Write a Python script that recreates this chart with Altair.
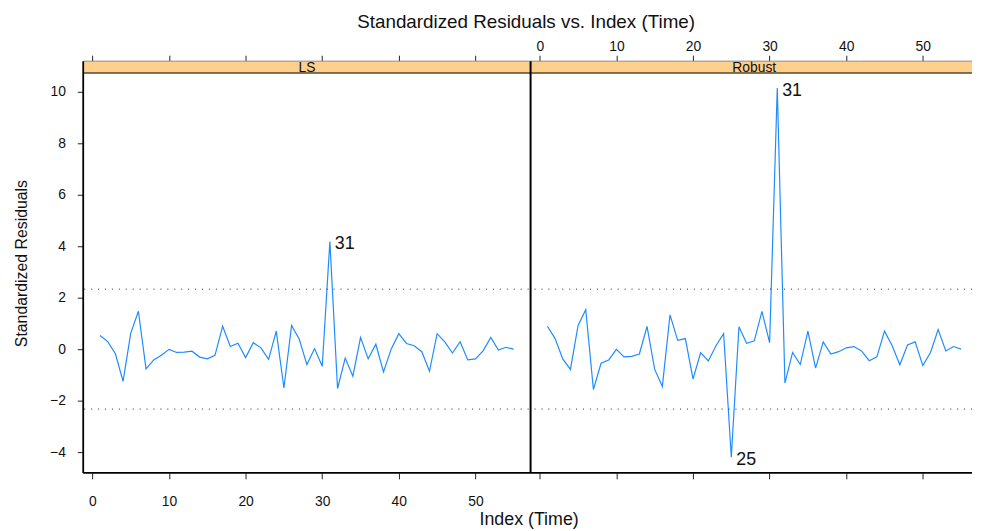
import altair as alt
import pandas as pd

# ---------------- data ----------------
index = list(range(1, 56))

ls_resid = [0.53, 0.29, -0.18, -1.25, 0.61, 1.47, -0.77, -0.42, -0.24, -0.01,
            -0.13, -0.12, -0.08, -0.31, -0.38, -0.24, 0.89, 0.10, 0.23, -0.33,
            0.25, 0.05, -0.40, 0.70, -1.51, 0.92, 0.38, -0.60, 0.02, -0.67,
            4.18, -1.53, -0.35, -1.05, 0.45, -0.38, 0.19, -0.89, 0.00, 0.60,
            0.22, 0.13, -0.10, -0.86, 0.60, 0.28, -0.15, 0.29, -0.42, -0.38,
            -0.07, 0.45, -0.04, 0.07, 0.00]

robust_resid = [0.89, 0.41, -0.38, -0.79, 0.92, 1.53, -1.57, -0.55, -0.42, -0.01,
                -0.30, -0.28, -0.19, 0.88, -0.79, -1.45, 1.33, 0.34, 0.41, -1.16,
                -0.14, -0.46, 0.13, 0.60, -4.20, 0.87, 0.23, 0.32, 1.47, 0.25,
                10.15, -1.32, -0.13, -0.60, 0.70, -0.74, 0.28, -0.19, -0.10, 0.05,
                0.10, -0.07, -0.45, -0.30, 0.70, 0.13, -0.61, 0.16, 0.28, -0.64,
                -0.13, 0.76, -0.07, 0.10, 0.00]

panel_names = ["LS", "Robust"]
ls_flag_idx = [31]
robust_flag_idx = [31, 25]
ref_levels = [2.33, -2.33]
x_ticks = [0, 10, 20, 30, 40, 50]
y_ticks = [-4, -2, 0, 2, 4, 6, 8, 10]

main_title = "Standardized Residuals vs. Index (Time)"
x_title = "Index (Time)"
y_title = "Standardized Residuals"

# ---------------- styling / layout ----------------
FONT = "Liberation Sans"
H = 416            # strip + plot
STRIP = 12
W_LS = 452
W_RB = 446
W = W_LS + W_RB
X_DOM_LS = [-1.2, 57.2]
X_DOM_RB = [-1.2, 56.42]
Y_DOM = [-4.81, 11.19]
LINE_COLOR = "#1e8cff"
STRIP_FILL = "#ffd08c"

ys = alt.Scale(domain=Y_DOM, nice=False, zero=False)
common = dict(tickSize=6, tickColor="#222", domain=False, grid=False,
              labelFont=FONT, labelFontSize=14, labelColor="#111",
              titleFont=FONT, titleFontWeight="normal", titleColor="#111")


def panel_layers(name, values, flags, x0, width, xdom, first):
    df = pd.DataFrame({"idx": index, "resid": values})
    lab = pd.DataFrame({"idx": flags,
                        "resid": [values[i - 1] for i in flags],
                        "lab": [str(i) for i in flags]})
    one = pd.DataFrame({"panel": [name]})
    xs = alt.Scale(domain=xdom, range=[x0, x0 + width], nice=False, zero=False)

    if first:
        bottom_axis = alt.Axis(orient="bottom", values=x_ticks, labelPadding=16,
                               title=x_title, titleFontSize=18, titleX=450,
                               titleY=52, titleAlign="center",
                               titleBaseline="alphabetic", titleAngle=0, **common)
        top_axis = alt.Axis(orient="top", values=x_ticks, labels=False,
                            title=main_title, titleFontSize=19, titleX=447,
                            titleY=-49, titleAlign="center", titleBaseline="top",
                            titleAngle=0, **common)
        left_axis = alt.Axis(orient="left", values=y_ticks, labelPadding=12,
                             title=y_title, titleFontSize=16, titleX=-54,
                             titleY=204, titleAngle=270, titleAlign="center",
                             titleBaseline="bottom", **common)
    else:
        bottom_axis = alt.Axis(orient="bottom", values=x_ticks, labels=False,
                               title=None, **common)
        top_axis = alt.Axis(orient="top", values=x_ticks, labelPadding=2,
                            title=None, **common)
        left_axis = None

    line = alt.Chart(df).mark_line(color=LINE_COLOR, strokeWidth=1.2).encode(
        x=alt.X("idx:Q", scale=xs, axis=bottom_axis),
        y=alt.Y("resid:Q", scale=ys, axis=left_axis),
    )
    top = alt.Chart(df).mark_point(opacity=0).encode(
        x=alt.X("idx:Q", scale=xs, axis=top_axis),
    )
    text = alt.Chart(lab).mark_text(align="left", baseline="middle", dx=5, dy=3,
                                    font=FONT, fontSize=18, color="#111").encode(
        x=alt.X("idx:Q", scale=xs, axis=None),
        y=alt.Y("resid:Q", scale=ys, axis=None),
        text="lab:N",
    )
    strip = alt.Chart(one).mark_rect(fill=STRIP_FILL).encode(
        x=alt.value(x0), x2=alt.value(x0 + width), y=alt.value(0),
        y2=alt.value(STRIP)
    )
    strip_text = alt.Chart(one).mark_text(font=FONT, fontSize=14, color="#111",
                                          baseline="middle").encode(
        x=alt.value(x0 + 226), y=alt.value(STRIP / 2 + 1), text="panel:N"
    )
    return [strip, strip_text, line, top, text]


one_row = pd.DataFrame({"k": [0]})
refs = pd.DataFrame({"lvl": ref_levels})

dots = alt.Chart(refs).mark_rule(color="#222", strokeWidth=1,
                                 strokeDash=[1, 6]).encode(
    y=alt.Y("lvl:Q", scale=ys, axis=None),
)
strip_top = alt.Chart(one_row).mark_rule(color="#8a8a8a", strokeWidth=1).encode(
    x=alt.value(0), x2=alt.value(W), y=alt.value(0)
)
strip_bot = alt.Chart(one_row).mark_rule(color="#5a4632", strokeWidth=1.6).encode(
    x=alt.value(0), x2=alt.value(W), y=alt.value(STRIP)
)
left_border = alt.Chart(one_row).mark_rule(color="#000", strokeWidth=1.8).encode(
    x=alt.value(0), y=alt.value(0), y2=alt.value(H)
)
divider = alt.Chart(one_row).mark_rule(color="#000", strokeWidth=2).encode(
    x=alt.value(W_LS), y=alt.value(0), y2=alt.value(H)
)
bottom_border = alt.Chart(one_row).mark_rule(color="#000", strokeWidth=1.6).encode(
    x=alt.value(0), x2=alt.value(W), y=alt.value(H)
)

ls_layers = panel_layers(panel_names[0], ls_resid, ls_flag_idx, 0, W_LS, X_DOM_LS, True)
rb_layers = panel_layers(panel_names[1], robust_resid, robust_flag_idx, W_LS, W_RB,
                         X_DOM_RB, False)

chart = alt.layer(
    *ls_layers, *rb_layers, strip_top, strip_bot, dots,
    left_border, divider, bottom_border
).resolve_scale(x="independent").resolve_axis(
    x="independent", y="independent"
).properties(
    width=W, height=H,
    padding={"left": 6, "top": 2, "right": 0, "bottom": 0},
    background="white",
).configure_view(stroke=None)

chart.save("out.html", embed_options={"renderer": "svg", "actions": False})
